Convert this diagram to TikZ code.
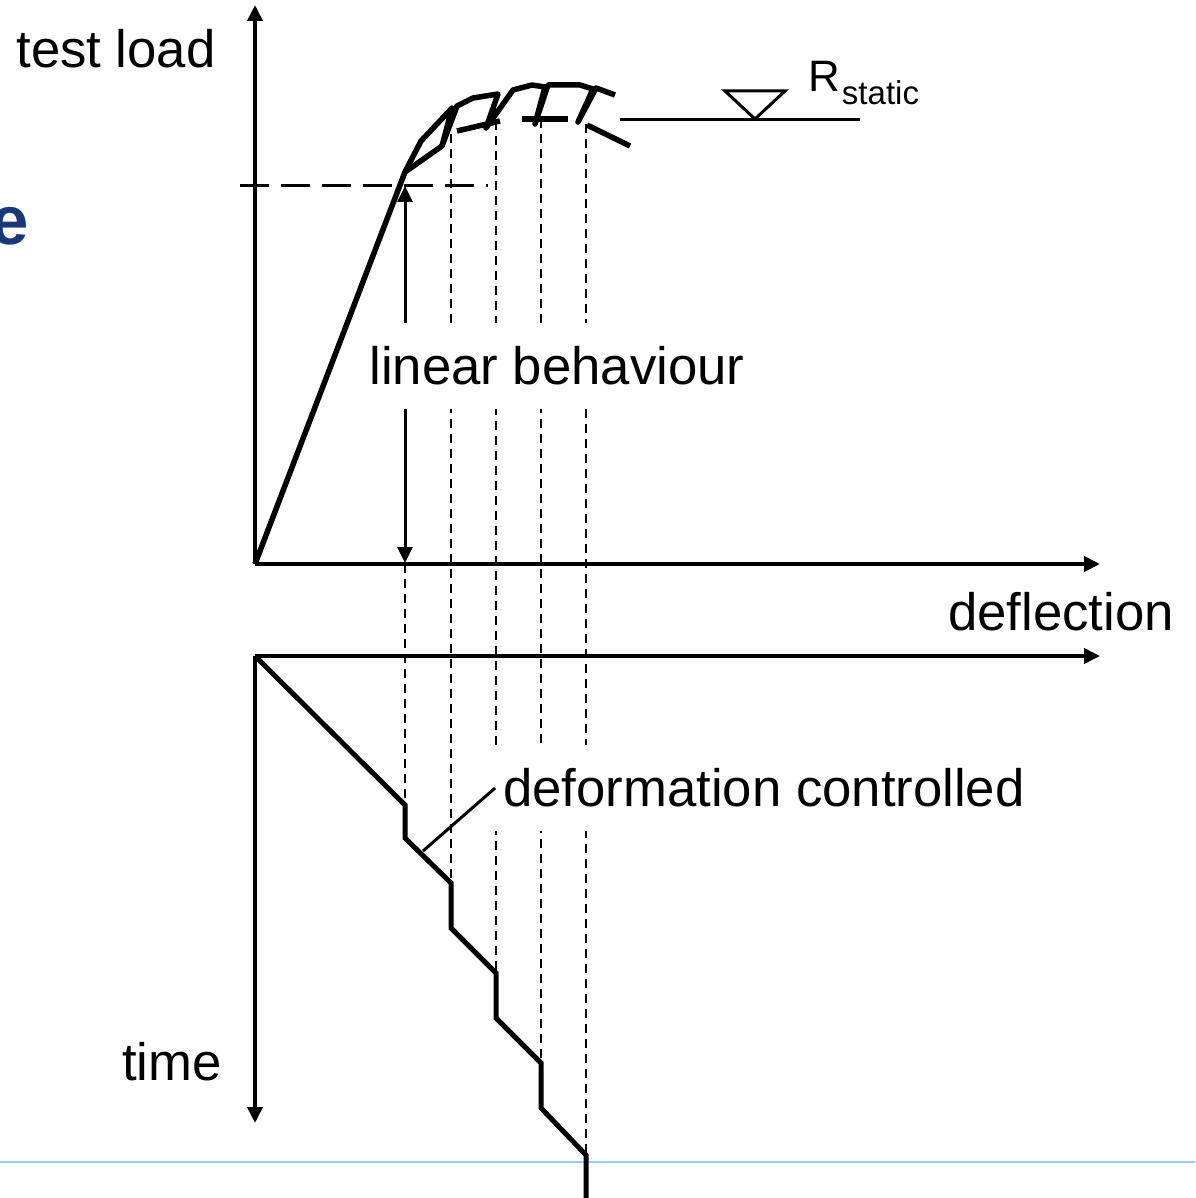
\documentclass[tikz,border=0pt]{standalone}
\usepackage{fontspec}
\setmainfont{Liberation Sans}
\usepackage{tikz}
\usepackage{xcolor}
\usetikzlibrary{calc}
\usetikzlibrary{positioning, arrows.meta}

\definecolor{titleblue}{RGB}{25,55,125}
\definecolor{rulesky}{RGB}{153,204,255}

\begin{document}
\begin{tikzpicture}[x=1pt, y=-1pt,
    axis/.style = {line width=3.8pt, -{Triangle[length=16pt, width=15pt]}},
    curve/.style = {line width=5.5pt, line join=round},
    stair/.style = {line width=5pt},
    guide/.style = {line width=1.8pt, dash pattern=on 9pt off 6pt},
    lbl/.style = {inner sep=0pt, font=\fontsize{52.7}{60}\selectfont},
    boxed/.style = {lbl, fill=white, inner xsep=8pt, minimum height=86pt}]

    \useasboundingbox (0,0) rectangle (1195,1198);

    % Points
    \coordinate (O) at (255,564);
    \coordinate (T) at (255,656);
    \coordinate (Y) at (255,5);
    \coordinate (X) at (1100,564);
    \coordinate (X2) at (1100,656);
    \coordinate (Tend) at (255,1123);
    \coordinate (E) at (405,172);   % end of linear part
    \coordinate (L1) at (451,134);
    \coordinate (L2) at (496,121);
    \coordinate (L3) at (541,119);
    \coordinate (L4) at (586,124);
    \coordinate (S1) at (405,805);
    \coordinate (S1b) at (405,838);
    \coordinate (S2) at (451,883);
    \coordinate (S2b) at (451,928);
    \coordinate (S3) at (496,973);
    \coordinate (S3b) at (496,1018);
    \coordinate (S4) at (541,1063);
    \coordinate (S4b) at (541,1108);
    \coordinate (S5) at (586,1155);
    \coordinate (lead) at (423,851);

    % Background rule
    \draw[rulesky, line width=2pt] (0,1162) -- (1195,1162);

    % Guides
    \draw[guide] (S1 |- O) -- (S1);
    \draw[guide] (L1) -- (S2);
    \draw[guide] (L2) -- (S3);
    \draw[guide] (L3) -- (S4);
    \draw[guide] (L4) -- (S5);
    \draw[line width=3pt, dash pattern=on 29pt off 12pt] (240,186) -- (488,186);
    \draw[line width=3pt, {Triangle[length=16pt, width=15pt]}-{Triangle[length=16pt, width=15pt]}] (405,186) -- (405,563);

    % Axes
    \draw[axis] (O) -- (Y);
    \draw[axis] (O) -- (X);
    \draw[axis] (T) -- (X2);
    \draw[axis] (T) -- (Tend);

    % Load curve
    \draw[curve] (O) -- (E) -- (421,141) -- (452,108) -- (442,146) -- (457,106) -- (473,98)
        -- (498,94) -- (486,128) -- (513,90) -- (532,85) -- (545,87) -- (535,124)
        -- (548,85) -- (580,85) -- (593,89) -- (578,122) -- (596,88) -- (615,95);
    \draw[curve] (E) -- (442,146);
    \draw[curve] (457,131) -- (500,121);
    \draw[curve] (522,119) -- (568,119);
    \draw[curve] (587,125) -- (630,146);

    % Static level
    \draw[line width=3pt] (620,120) -- (860,120);
    \draw[line width=3pt, line join=miter] (725,91) -- (785,91) -- (755,119) -- cycle;

    % Time steps
    \draw[stair] (T) -- (S1) -- (S1b) -- (S2) -- (S2b) -- (S3) -- (S3b) -- (S4) -- (S4b) -- (S5) -- (586,1210);

    % Nodes
    \node[inner sep=0pt, anchor=base east, text=titleblue, font=\fontsize{69}{69}\selectfont\bfseries] (title) at (29,244) {e};
    \node[lbl, anchor=base] (load) at (116,68) {test load};
    \node[lbl, anchor=base] (defl) at (1061,630) {deflection};
    \node[lbl, anchor=base] (time) at (172,1080) {time};
    \node[inner sep=0pt, anchor=base west] (rstat) at (808,92) {\fontsize{44}{44}\selectfont R\kern2pt\raisebox{-13pt}{\fontsize{33}{33}\selectfont static}};
    \node[boxed] (linear) at (557,366) {linear behaviour};
    \node[boxed] (deform) at (764,788) {deformation controlled};

    % Leader
    \draw[line width=3pt] (lead) -- (deform.west);
\end{tikzpicture}
\end{document}
